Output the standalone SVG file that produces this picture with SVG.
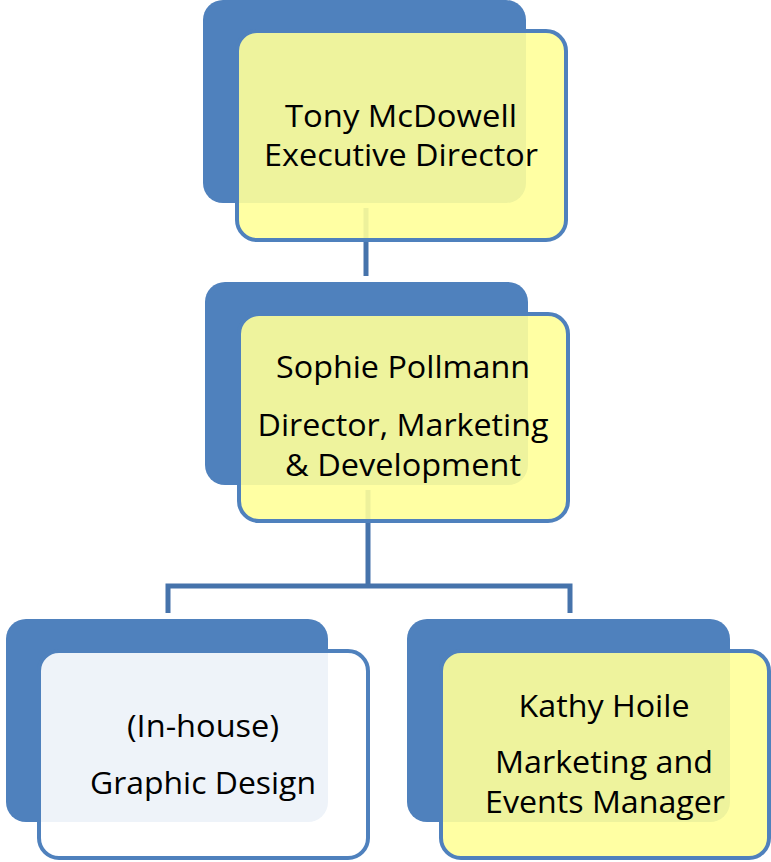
<svg xmlns="http://www.w3.org/2000/svg" width="771" height="862" viewBox="0 0 771 862">
<style>
.back{fill:#4F81BD;}
.front{fill:#FFFF99;fill-opacity:0.9;stroke:#4F81BD;stroke-width:4;}
.frontw{fill:#FFFFFF;fill-opacity:0.9;stroke:#4F81BD;stroke-width:4;}
.conn{fill:none;stroke:#4673AB;stroke-width:5;}
text{font-family:"Open Sans","Liberation Sans",sans-serif;font-size:31px;fill:#000;text-anchor:middle;}
</style>
<g id="connectors">
<path class="conn" d="M366,208 V276"/>
<path class="conn" d="M368,490 V586 M168,613 V586 H570 V613"/>
</g>
<g id="node-tony">
<rect class="back" x="203" y="0" width="323" height="203" rx="20"/>
<rect class="front" x="237" y="31" width="329" height="209" rx="20"/>
<text x="401" y="127" textLength="232" lengthAdjust="spacingAndGlyphs">Tony McDowell</text>
<text x="401" y="166" textLength="274" lengthAdjust="spacingAndGlyphs">Executive Director</text>
</g>
<g id="node-sophie">
<rect class="back" x="205" y="282" width="323" height="203" rx="20"/>
<rect class="front" x="239" y="314" width="329" height="207" rx="20"/>
<text x="403" y="378" textLength="254" lengthAdjust="spacingAndGlyphs">Sophie Pollmann</text>
<text x="403" y="436" textLength="291" lengthAdjust="spacingAndGlyphs">Director, Marketing</text>
<text x="403" y="476" textLength="236" lengthAdjust="spacingAndGlyphs">&amp; Development</text>
</g>
<g id="node-graphic">
<rect class="back" x="6" y="619" width="322" height="203" rx="20"/>
<rect class="frontw" x="39" y="651" width="329" height="207" rx="20"/>
<text x="203" y="737" textLength="152" lengthAdjust="spacingAndGlyphs">(In-house)</text>
<text x="203" y="794" textLength="226" lengthAdjust="spacingAndGlyphs">Graphic Design</text>
</g>
<g id="node-kathy">
<rect class="back" x="407" y="619" width="323" height="203" rx="20"/>
<rect class="front" x="441" y="651" width="328" height="207" rx="20"/>
<text x="604" y="717" textLength="171" lengthAdjust="spacingAndGlyphs">Kathy Hoile</text>
<text x="604" y="773" textLength="218" lengthAdjust="spacingAndGlyphs">Marketing and</text>
<text x="605" y="813" textLength="240" lengthAdjust="spacingAndGlyphs">Events Manager</text>
</g>
</svg>
